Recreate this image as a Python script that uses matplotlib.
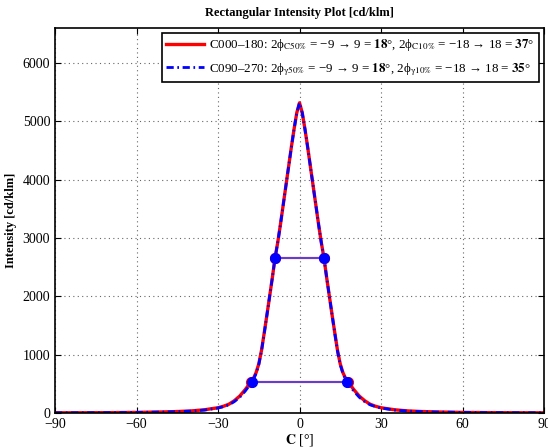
import numpy as np
import matplotlib
matplotlib.use('Agg')
import matplotlib.pyplot as plt

plt.rcParams['font.family'] = ['Liberation Serif', 'DejaVu Serif']
plt.rcParams['mathtext.fontset'] = 'stix'

# angle grid [deg]
angles = [-90, -80, -70, -60, -50, -45, -40, -35, -30, -28, -26, -24, -22, -20,
          -18, -17, -16, -15, -14, -13, -12, -11, -10, -9, -8, -7, -6, -5, -4,
          -3, -2, -1, 0, 1, 2, 3, 4, 5, 6, 7, 8, 9, 10, 11, 12, 13, 14, 15, 16,
          17, 18, 20, 22, 24, 26, 28, 30, 35, 40, 45, 50, 60, 70, 80, 90]

# C000-180 intensity [cd/klm]
i_c0 = [3, 4, 6, 10, 18, 25, 35, 55, 90, 115, 150, 210, 290, 400,
        525, 590, 690, 840, 1070, 1370, 1680, 2000, 2320, 2660, 2930, 3240,
        3570, 3900, 4230, 4560, 4870, 5150, 5320, 5150, 4870, 4560, 4230,
        3900, 3570, 3240, 2930, 2660, 2320, 2000, 1680, 1370, 1070, 840, 690,
        590, 525, 400, 290, 210, 150, 115, 90, 55, 35, 25, 18, 10, 6, 4, 3]

# C090-270 intensity [cd/klm]
i_c90 = [3, 4, 6, 10, 17, 23, 32, 50, 85, 108, 140, 195, 270, 375,
         500, 570, 675, 830, 1060, 1365, 1680, 2000, 2320, 2660, 2930, 3240,
         3570, 3900, 4230, 4560, 4870, 5150, 5320, 5150, 4870, 4560, 4230,
         3900, 3570, 3240, 2930, 2660, 2320, 2000, 1680, 1365, 1060, 830, 675,
         570, 500, 375, 270, 195, 140, 108, 85, 50, 32, 23, 17, 10, 6, 4, 3]

# half-width points
c0_50 = [-9, 9]
c0_10 = [-18, 18]
c90_50 = [-9, 9]
c90_10 = [-17.5, 17.5]
peak = 5320

fig = plt.figure(figsize=(5.48, 4.47), dpi=100)
ax = fig.add_axes([0.1004, 0.0761, 0.8923, 0.8609])

ax.plot(angles, i_c0, '-', color='red', lw=2.4,
        label='C000–180: 2ϕ$_{\\mathrm{C50\\%}}$ = −9 → 9 = $\\mathbf{18}$°, '
              '2ϕ$_{\\mathrm{C10\\%}}$ = −18 → 18 = $\\mathbf{37}$°')
ax.plot(angles, i_c90, '-.', color='blue', lw=2.0, dashes=(2.6, 1.3, 0.6, 1.3),
        label='C090–270: 2ϕ$_{\\mathrm{\\gamma50\\%}}$ = −9 → 9 = $\\mathbf{18}$°, '
              '2ϕ$_{\\mathrm{\\gamma10\\%}}$ = −18 → 18 = $\\mathbf{35}$°')

for xs, lvl, col in [(c0_50, 0.5, 'red'), (c0_10, 0.1, 'red'),
                     (c90_50, 0.5, 'blue'), (c90_10, 0.1, 'blue')]:
    ys = [peak * lvl] * 2
    ax.plot(xs, ys, '-', color='#6a3cc8', lw=1.5, zorder=3)
    ax.plot(xs, ys, 'o', color=col, ms=7, zorder=4)

ax.set_xlim(-90, 90)
ax.set_ylim(0, 6600)
ax.set_xticks(range(-90, 91, 30))
ax.set_yticks(range(0, 6001, 1000))
ax.grid(True, linestyle=(0, (1, 3)), color='#666666', lw=0.8)
ax.tick_params(direction='in', top=True, right=True, labelsize=10, length=4)
for s in ax.spines.values():
    s.set_linewidth(1.2)

ax.set_title('Rectangular Intensity Plot [cd/klm]', fontsize=9, fontweight='bold', pad=9)
ax.set_xlabel(r'$\mathbf{C}$ [°]', fontsize=10, labelpad=1)
ax.set_ylabel('Intensity [cd/klm]', fontsize=9, fontweight='bold')

leg = ax.legend(loc='upper right', fontsize=9.4, fancybox=False, framealpha=1,
                edgecolor='black', borderaxespad=0.35, handlelength=2.9,
                handletextpad=0.4, borderpad=0.35, labelspacing=0.6)
leg.get_frame().set_linewidth(1.2)

fig.savefig('out.png', dpi=100)
